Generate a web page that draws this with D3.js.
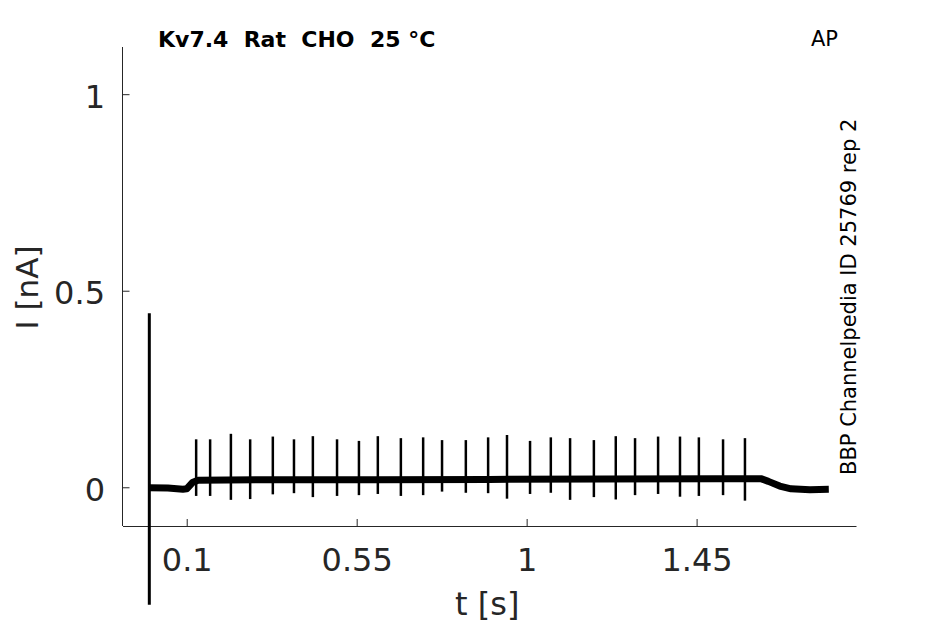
<!DOCTYPE html>
<html>
<head>
<meta charset="utf-8">
<script src="https://cdn.jsdelivr.net/npm/d3@7"></script>
<style>
  body { margin: 0; background: #fff; }
  text { font-family: "DejaVu Sans", sans-serif; }
</style>
</head>
<body>
<svg width="945" height="624"></svg>
<script>
// tick labels
const xTicks = [0.1, 0.55, 1, 1.45];
const yTicks = [0, 0.5, 1];

// baseline of the trace (time [s], current [nA])
const baseT = [0.0, 0.05, 0.09, 0.1, 0.115, 0.13, 0.3, 0.6, 0.9, 1.2, 1.5, 1.62, 1.64, 1.67, 1.7, 1.75, 1.8];
const baseI = [-0.001, -0.002, -0.005, -0.004, 0.012, 0.018, 0.019, 0.019, 0.02, 0.021, 0.022, 0.022, 0.015, 0.003, -0.004, -0.006, -0.005];

// spikes: time, peak, trough
const spikeT = [0.125, 0.162, 0.217, 0.268, 0.328, 0.384, 0.434, 0.498, 0.556, 0.606, 0.667, 0.726, 0.776, 0.839,
                0.898, 0.948, 1.009, 1.064, 1.115, 1.178, 1.236, 1.287, 1.348, 1.406, 1.456, 1.520, 1.578];
const spikePeak = [0.122, 0.122, 0.136, 0.122, 0.129, 0.122, 0.130, 0.122, 0.118, 0.130, 0.125, 0.127, 0.120, 0.120,
                   0.127, 0.133, 0.118, 0.127, 0.125, 0.120, 0.130, 0.125, 0.129, 0.129, 0.127, 0.122, 0.125];
const spikeLow = [-0.022, -0.022, -0.032, -0.030, -0.018, -0.015, -0.025, -0.022, -0.020, -0.017, -0.022, -0.020, -0.011, -0.014,
                  -0.015, -0.029, -0.017, -0.014, -0.032, -0.025, -0.031, -0.020, -0.017, -0.024, -0.022, -0.020, -0.034];

// stimulus artifact
const artT = 0.001;
const artRange = [-0.299, 0.443];

const render = () => {
    const margin = { top: 47, right: 89, bottom: 98, left: 122.5 };
    const svg = d3.select('svg');
    const width = +svg.attr('width');
    const height = +svg.attr('height');
    const innerWidth = width - margin.left - margin.right;
    const innerHeight = height - margin.top - margin.bottom;

    const xScale = d3.scaleLinear().domain([-0.07, 1.872]).range([0, innerWidth]);
    const yScale = d3.scaleLinear().domain([-0.0985, 1.12]).range([innerHeight, 0]);

    const g = svg.append('g').attr('transform', `translate(${margin.left},${margin.top})`);

//Axis
    const xAxis = d3.axisBottom(xScale).tickValues(xTicks).tickFormat(d3.format('')).tickSizeInner(-7).tickSizeOuter(0);
    const yAxis = d3.axisLeft(yScale).tickValues(yTicks).tickFormat(d3.format('')).tickSizeInner(-7).tickSizeOuter(0);

    const xg = g.append('g').attr('transform', `translate(0,${innerHeight})`).call(xAxis);
    xg.selectAll('text').attr('y', 45).attr('dy', 0);
    const yg = g.append('g').call(yAxis);
    yg.selectAll('text').attr('x', -17.5).attr('dy', 13);

    [xg, yg].forEach(a => {
        a.select('.domain').attr('stroke', '#262626').attr('stroke-width', 1);
        a.selectAll('line').attr('stroke', '#262626');
        a.selectAll('text').attr('fill', '#262626').style('font-size', '32px');
    });
    // y axis runs to the top of the box
    yg.select('.domain').attr('d', `M0,${innerHeight}V0`);

//Trace
    const line = d3.line().x(d => xScale(d[0])).y(d => yScale(d[1]));
    g.append('path')
        .datum(baseT.map((t, i) => [t, baseI[i]]))
        .attr('d', line)
        .attr('fill', 'none')
        .attr('stroke', '#000')
        .attr('stroke-width', 7)
        .attr('stroke-linejoin', 'round');

    g.selectAll('line.spike').data(spikeT)
        .enter().append('line')
        .attr('class', 'spike')
        .attr('x1', d => xScale(d)).attr('x2', d => xScale(d))
        .attr('y1', (d, i) => yScale(spikePeak[i]))
        .attr('y2', (d, i) => yScale(spikeLow[i]))
        .attr('stroke', '#000')
        .attr('stroke-width', 2.5);

    g.append('line')
        .attr('x1', xScale(artT)).attr('x2', xScale(artT))
        .attr('y1', yScale(artRange[1])).attr('y2', yScale(artRange[0]))
        .attr('stroke', '#000')
        .attr('stroke-width', 3);

//Labels
    svg.append('text')
        .attr('x', margin.left + innerWidth / 2 - 2).attr('y', 615)
        .attr('text-anchor', 'middle')
        .attr('fill', '#262626').style('font-size', '32px')
        .text('t [s]');

    svg.append('text')
        .attr('transform', `translate(38,${margin.top + innerHeight / 2 + 1})rotate(-90)`)
        .attr('text-anchor', 'middle')
        .attr('fill', '#262626').style('font-size', '31px')
        .text('I [nA]');

    svg.append('text')
        .attr('x', 158).attr('y', 47)
        .style('font-size', '22px').style('font-weight', 'bold')
        .text('Kv7.4\u00a0\u00a0Rat\u00a0\u00a0CHO\u00a0\u00a025 °C');

    svg.append('text')
        .attr('x', 811).attr('y', 46)
        .style('font-size', '21px')
        .text('AP');

    svg.append('text')
        .attr('transform', 'translate(856,475)rotate(-90)')
        .style('font-size', '21px')
        .text('BBP Channelpedia ID 25769 rep 2');
};

render();
</script>
</body>
</html>
